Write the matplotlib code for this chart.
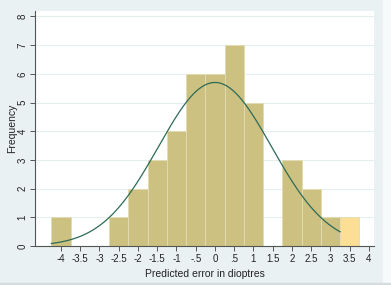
import matplotlib.pyplot as plt
from matplotlib.patches import Rectangle
import numpy as np

plt.rcParams['font.family'] = ['Liberation Sans', 'DejaVu Sans']

# histogram bins (centres, width 0.5) and counts
centres = [-4, -3.5, -3, -2.5, -2, -1.5, -1, -0.5, 0, 0.5, 1, 1.5, 2, 2.5, 3, 3.5]
counts = [1, 0, 0, 1, 2, 3, 4, 6, 6, 7, 5, 0, 3, 2, 1, 1]
highlight = [False] * 15 + [True]
bin_width = 0.5

# normal overlay
mu = 0.0
sigma = 1.47
n_obs = sum(counts)
x_lo, x_hi = -4.25, 3.25

xticks = [-4, -3.5, -3, -2.5, -2, -1.5, -1, -0.5, 0, 0.5, 1, 1.5, 2, 2.5, 3, 3.5, 4]
xticklabels = ["-4", "-3.5", "-3", "-2.5", "-2", "-1.5", "-1", "-.5", "0", ".5",
               "1", "1.5", "2", "2.5", "3", "3.5", "4"]
yticks = [0, 1, 2, 3, 4, 5, 6, 7, 8]

bg = "#EAF1F3"
fig = plt.figure(figsize=(3.91, 2.85), dpi=100, facecolor=bg)
# screenshot border: white strip at right, grey line at bottom
fig.patches.append(Rectangle((383/391, 0), 8/391, 1, transform=fig.transFigure,
                             color="#F7FAFA", zorder=0))
fig.patches.append(Rectangle((0, 0), 1, 2/285, transform=fig.transFigure,
                             color="#D5DCDE", zorder=0))

ax = fig.add_axes([35/391, 1-246/285, (374-35)/391, (246-11)/285])
ax.set_facecolor("white")

colors = ["#FCDF94" if h else "#CCC180" for h in highlight]
ax.bar(centres, counts, width=bin_width, color=colors, edgecolor="#E2DCB4",
       linewidth=0.6, zorder=2)

xs = np.linspace(x_lo, x_hi, 300)
ys = n_obs * bin_width * np.exp(-(xs - mu)**2 / (2*sigma**2)) / (sigma*np.sqrt(2*np.pi))
ax.plot(xs, ys, color="#2E6B57", linewidth=0.9, zorder=3)

ax.set_xlim(-4.675, 4.13)
ax.set_ylim(0, 8.19)
ax.set_xticks(xticks)
ax.set_xticklabels(xticklabels, fontsize=7, color="#222222")
ax.set_yticks(yticks)
ax.set_yticklabels([str(v) for v in yticks], fontsize=7, rotation=90,
                   va="center", color="#222222")
ax.yaxis.grid(True, color="#E6EDEF", linewidth=0.8, zorder=0)
ax.set_axisbelow(True)

for s in ["top", "right"]:
    ax.spines[s].set_visible(False)
for s in ["left", "bottom"]:
    ax.spines[s].set_color("#555555")
    ax.spines[s].set_linewidth(0.8)
ax.tick_params(axis="both", length=3.5, width=0.7, color="#555555", pad=2)

ax.set_xlabel("Predicted error in dioptres", fontsize=7.5, color="#222222", labelpad=4)
ax.set_ylabel("Frequency", fontsize=7.5, color="#222222")
ax.yaxis.set_label_coords(-0.052, 0.5)

fig.savefig("out.png", dpi=100, facecolor=bg)
